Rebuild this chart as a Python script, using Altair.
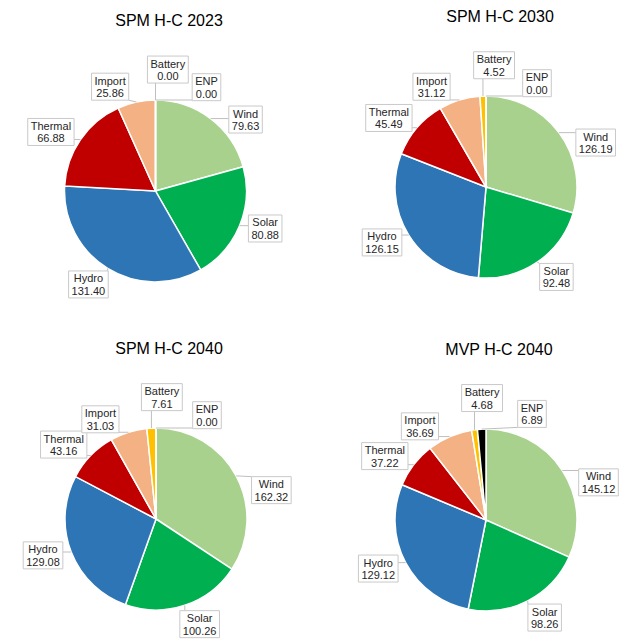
import altair as alt
import pandas as pd

# ---------------- data ----------------
CATEGORIES = ["Wind", "Solar", "Hydro", "Thermal", "Import", "Battery", "ENP"]
COLORS = ["#a9d18e", "#00b050", "#2e75b6", "#c00000", "#f4b183", "#ffc000", "#000000"]
SCENARIOS = ["SPM H-C 2023", "SPM H-C 2030", "SPM H-C 2040", "MVP H-C 2040"]
SPM_2023 = [79.63, 80.88, 131.40, 66.88, 25.86, 0.00, 0.00]
SPM_2030 = [126.19, 92.48, 126.15, 45.49, 31.12, 4.52, 0.00]
SPM_2040 = [162.32, 100.26, 129.08, 43.16, 31.03, 7.61, 0.00]
MVP_2040 = [145.12, 98.26, 129.12, 37.22, 36.69, 4.68, 6.89]
SERIES = [SPM_2023, SPM_2030, SPM_2040, MVP_2040]

# ---------------- layout / style ----------------
W, H = 625, 626
R = 91
CENTERS = [(147.5, 183), (478, 179), (148, 511), (478, 512)]
TITLE_POS = [(161, 18), (492, 14), (161, 346), (491, 347)]
FONT = "Liberation Sans"
LABEL_FS = 11
LINE_H = 12.5
BOX_H = 27
# Excel-like label placement nudges (degrees of rotation, radial gap in px)
LABEL_ANGLE_ADJ = {"Wind": 13.5, "Solar": -3, "Hydro": 2.5, "Thermal": -3,
                   "Import": -10.5, "Battery": 5.5, "ENP": 26}
LABEL_GAP = {"Battery": 17.5, "ENP": 11}
DEFAULT_GAP = 8.5

CHAR_W = {"W": .944, "i": .222, "n": .556, "d": .556, "S": .667, "o": .556,
          "l": .222, "a": .556, "r": .333, "H": .722, "y": .5, "T": .611,
          "h": .556, "e": .556, "m": .833, "I": .278, "p": .556, "t": .278,
          "B": .667, "E": .667, "N": .722, "P": .667, ".": .278}


def text_w(s):
    return sum(CHAR_W.get(c, .556) for c in s) * LABEL_FS


rows = []
for s, vals in zip(SCENARIOS, SERIES):
    for i, (c, v) in enumerate(zip(CATEGORIES, vals)):
        rows.append({
            "scenario": s, "cat": c, "idx": i, "value": v,
            "w": max(text_w(c), text_w(f"{v:.2f}")) + 6,
            "adj": LABEL_ANGLE_ADJ.get(c, 0),
            "gap": LABEL_GAP.get(c, DEFAULT_GAP),
        })
df = pd.DataFrame(rows)

base = alt.Chart(df)
color = alt.Color("cat:N", scale=alt.Scale(domain=CATEGORIES, range=COLORS), legend=None)

layers = []
for s, (cx, cy), (tx, ty) in zip(SCENARIOS, CENTERS, TITLE_POS):
    pie_base = base.transform_filter(alt.datum.scenario == s)
    arcs = pie_base.mark_arc(outerRadius=R, stroke="white", strokeWidth=1.5).encode(
        theta=alt.Theta("value:Q", stack="normalize"),
        order=alt.Order("idx:Q"),
        color=color,
        x=alt.value(cx),
        y=alt.value(cy),
    )
    lab = (
        pie_base.transform_window(cum="sum(value)", sort=[alt.SortField("idx")], frame=[None, 0])
        .transform_joinaggregate(total="sum(value)")
        .transform_calculate(mid="2*PI*(datum.cum - datum.value/2)/datum.total")
        .transform_calculate(a="datum.mid + datum.adj*PI/180")
        .transform_calculate(ux="sin(datum.a)", uy="-cos(datum.a)",
                             ex=f"{cx} + {R}*sin(datum.mid)",
                             ey=f"{cy} - {R}*cos(datum.mid)")
        .transform_calculate(bx=f"{cx} + ({R}+datum.gap)*datum.ux + datum.ux*datum.w/2",
                             by=f"{cy} + ({R}+datum.gap)*datum.uy + datum.uy*{BOX_H}/2")
        .transform_calculate(x1="datum.bx - datum.w/2", x2="datum.bx + datum.w/2",
                             y1=f"datum.by - {BOX_H}/2", y2=f"datum.by + {BOX_H}/2",
                             ty="datum.by - 11")
        .transform_calculate(lx="clamp(datum.ex, datum.x1, datum.x2)",
                             ly="clamp(datum.ey, datum.y1, datum.y2)",
                             label="datum.cat + '\\n' + format(datum.value, '.2f')")
    )
    leaders = lab.mark_rule(color="#bfbfbf", strokeWidth=1).encode(
        x=alt.X("ex:Q", scale=None, axis=None), y=alt.Y("ey:Q", scale=None, axis=None),
        x2="lx:Q", y2="ly:Q",
    )
    boxes = lab.mark_rect(fill="white", stroke="#c9c9c9", strokeWidth=1).encode(
        x=alt.X("x1:Q", scale=None, axis=None), x2="x2:Q",
        y=alt.Y("y1:Q", scale=None, axis=None), y2="y2:Q",
    )
    texts = lab.mark_text(font=FONT, fontSize=LABEL_FS, color="#262626", lineBreak="\n",
                          lineHeight=LINE_H, align="center", baseline="top").encode(
        x=alt.X("bx:Q", scale=None, axis=None), y=alt.Y("ty:Q", scale=None, axis=None),
        text="label:N",
    )
    title = alt.Chart(pd.DataFrame({"t": [s]})).mark_text(
        font=FONT, fontSize=16, color="#000000", align="center", baseline="alphabetic"
    ).encode(x=alt.value(tx), y=alt.value(ty), text="t:N")
    layers += [arcs, leaders, boxes, texts, title]

chart = (
    alt.layer(*layers)
    .properties(width=W, height=H, padding=0)
    .configure_view(stroke=None)
)

chart.save("out.html", embed_options={"renderer": "svg", "actions": False})
